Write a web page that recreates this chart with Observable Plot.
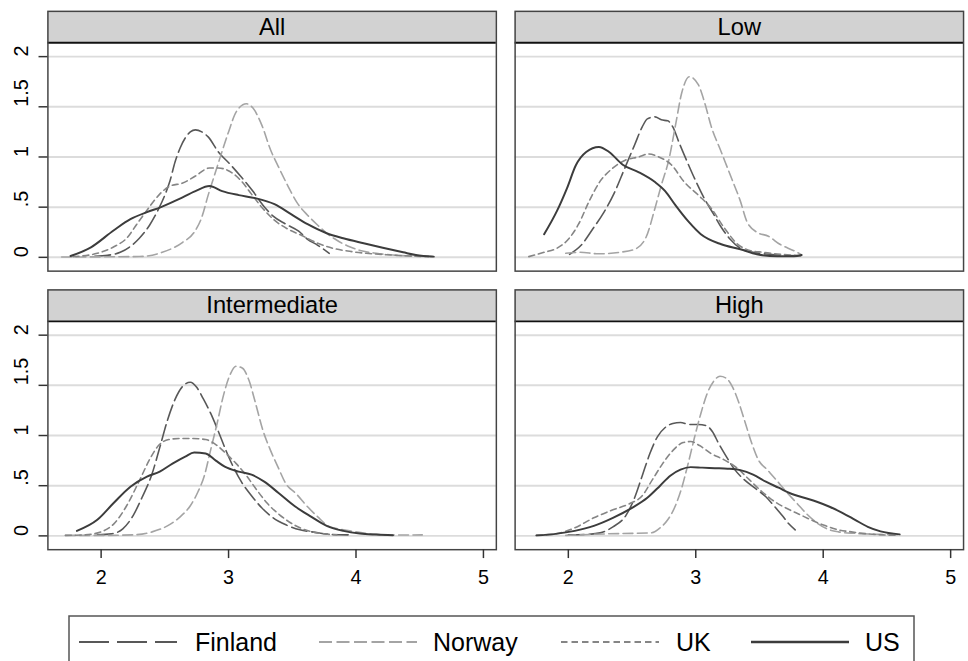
<!DOCTYPE html>
<html>
<head>
<meta charset="utf-8">
<script src="https://cdn.jsdelivr.net/npm/d3@7"></script>
<script src="https://cdn.jsdelivr.net/npm/@observablehq/plot@0.6"></script>
<style>
  html, body { margin: 0; padding: 0; background: #fff; overflow: hidden; }
  #chart { position: relative; width: 968px; height: 661px; overflow: hidden; background: #fff; }
  #panels { position: absolute; left: 0; top: 0; }
</style>
</head>
<body>
<div id="chart"><div id="panels"></div></div>
<script>
// Panels (education groups) and countries
const groups = ["All", "Low", "Intermediate", "High"];
const countries = ["Finland", "Norway", "UK", "US"];

// Axis ticks and labels
const xTicks = [2, 3, 4, 5];
const xTickLabels = ["2", "3", "4", "5"];
const yTicks = [0, 0.5, 1, 1.5, 2];
const yTickLabels = ["0", ".5", "1", "1.5", "2"];

// Kernel density estimates: [score, density]
const finlandAll = [[1.95,0.01],[2.05,0.02],[2.15,0.05],[2.22,0.10],[2.30,0.19],[2.38,0.32],[2.45,0.48],[2.50,0.62],[2.54,0.76],[2.58,0.95],[2.62,1.09],[2.66,1.19],[2.70,1.25],[2.74,1.27],[2.79,1.25],[2.84,1.20],[2.92,1.05],[3.01,0.93],[3.10,0.80],[3.19,0.66],[3.27,0.52],[3.35,0.41],[3.45,0.33],[3.55,0.26],[3.62,0.18],[3.70,0.12],[3.79,0.04]];
const norwayAll = [[1.69,0.003],[2.00,0.005],[2.30,0.008],[2.48,0.05],[2.64,0.15],[2.73,0.25],[2.79,0.40],[2.84,0.62],[2.90,0.86],[2.95,1.06],[3.00,1.25],[3.06,1.45],[3.14,1.53],[3.19,1.49],[3.26,1.32],[3.33,1.07],[3.40,0.88],[3.47,0.70],[3.54,0.54],[3.62,0.42],[3.70,0.32],[3.77,0.24],[3.85,0.17],[3.95,0.105],[4.06,0.06],[4.16,0.04],[4.29,0.023],[4.42,0.013],[4.60,0.007]];
const ukAll = [[1.78,0.007],[1.97,0.04],[2.10,0.105],[2.20,0.19],[2.28,0.33],[2.36,0.47],[2.46,0.63],[2.54,0.71],[2.64,0.74],[2.74,0.81],[2.85,0.89],[2.92,0.89],[3.03,0.84],[3.10,0.76],[3.18,0.63],[3.26,0.50],[3.36,0.37],[3.46,0.285],[3.57,0.22],[3.70,0.14],[3.82,0.09],[3.95,0.06],[4.08,0.04],[4.24,0.026],[4.42,0.013],[4.57,0.007]];
const usAll = [[1.76,0.013],[1.92,0.10],[2.10,0.27],[2.23,0.38],[2.36,0.45],[2.47,0.50],[2.61,0.58],[2.74,0.66],[2.85,0.71],[2.95,0.66],[3.08,0.62],[3.21,0.59],[3.36,0.53],[3.49,0.43],[3.62,0.33],[3.77,0.24],[3.90,0.19],[4.06,0.14],[4.21,0.095],[4.37,0.05],[4.47,0.023],[4.61,0.007]];

const finlandLow = [[2.01,0.03],[2.10,0.12],[2.19,0.28],[2.28,0.45],[2.36,0.64],[2.44,0.88],[2.52,1.12],[2.58,1.30],[2.62,1.38],[2.68,1.40],[2.73,1.37],[2.78,1.36],[2.82,1.30],[2.87,1.14],[2.93,0.96],[3.00,0.76],[3.07,0.58],[3.14,0.43],[3.20,0.30],[3.27,0.18],[3.35,0.09],[3.45,0.05],[3.58,0.03],[3.70,0.02],[3.83,0.015]];
const norwayLow = [[1.98,0.04],[2.09,0.05],[2.24,0.035],[2.40,0.05],[2.52,0.08],[2.61,0.20],[2.68,0.49],[2.73,0.72],[2.79,0.98],[2.84,1.31],[2.89,1.64],[2.95,1.80],[3.02,1.72],[3.07,1.54],[3.12,1.31],[3.20,1.05],[3.28,0.79],[3.35,0.56],[3.40,0.36],[3.48,0.25],[3.57,0.21],[3.66,0.13],[3.77,0.066],[3.83,0.026]];
const ukLow = [[1.69,0.007],[1.81,0.05],[1.91,0.09],[2.00,0.18],[2.08,0.33],[2.16,0.55],[2.24,0.74],[2.34,0.88],[2.45,0.97],[2.55,1.00],[2.63,1.03],[2.71,1.00],[2.81,0.92],[2.91,0.75],[3.02,0.62],[3.12,0.49],[3.22,0.30],[3.33,0.13],[3.43,0.066],[3.53,0.05],[3.64,0.033],[3.74,0.023],[3.83,0.016]];
const usLow = [[1.81,0.23],[1.91,0.46],[1.99,0.69],[2.06,0.92],[2.14,1.05],[2.24,1.10],[2.32,1.05],[2.43,0.92],[2.55,0.85],[2.68,0.75],[2.76,0.66],[2.84,0.52],[2.94,0.36],[3.04,0.23],[3.20,0.13],[3.35,0.08],[3.48,0.03],[3.64,0.01],[3.77,0.01],[3.83,0.023]];

const finlandInter = [[1.97,0.01],[2.08,0.02],[2.17,0.07],[2.25,0.20],[2.32,0.38],[2.40,0.62],[2.46,0.88],[2.52,1.15],[2.58,1.36],[2.64,1.49],[2.70,1.53],[2.75,1.48],[2.80,1.37],[2.86,1.22],[2.92,1.04],[2.98,0.85],[3.04,0.68],[3.10,0.54],[3.18,0.40],[3.26,0.28],[3.35,0.18],[3.45,0.11],[3.56,0.06],[3.68,0.035],[3.80,0.015],[3.95,0.01]];
const norwayInter = [[1.72,0.005],[2.00,0.005],[2.25,0.01],[2.40,0.04],[2.52,0.10],[2.62,0.19],[2.70,0.30],[2.76,0.44],[2.81,0.60],[2.86,0.86],[2.91,1.12],[2.96,1.40],[3.01,1.60],[3.06,1.69],[3.11,1.67],[3.16,1.55],[3.21,1.33],[3.27,1.05],[3.33,0.85],[3.39,0.68],[3.45,0.52],[3.53,0.42],[3.62,0.29],[3.70,0.19],[3.78,0.10],[3.86,0.07],[3.95,0.05],[4.05,0.03],[4.16,0.015],[4.30,0.008],[4.52,0.01]];
const ukInter = [[1.72,0.005],[1.87,0.01],[2.00,0.04],[2.10,0.12],[2.20,0.30],[2.30,0.55],[2.38,0.76],[2.45,0.90],[2.53,0.96],[2.62,0.97],[2.72,0.97],[2.82,0.96],[2.90,0.91],[2.98,0.82],[3.06,0.72],[3.14,0.60],[3.22,0.46],[3.30,0.33],[3.40,0.21],[3.50,0.12],[3.60,0.06],[3.72,0.025],[3.85,0.01]];
const usInter = [[1.81,0.05],[1.97,0.16],[2.10,0.33],[2.23,0.49],[2.36,0.59],[2.46,0.64],[2.56,0.72],[2.66,0.79],[2.73,0.83],[2.82,0.82],[2.90,0.75],[2.97,0.69],[3.08,0.64],[3.18,0.61],[3.28,0.54],[3.39,0.43],[3.52,0.295],[3.64,0.197],[3.77,0.10],[3.90,0.05],[4.03,0.023],[4.16,0.013],[4.29,0.007]];

const finlandHigh = [[2.00,0.01],[2.15,0.015],[2.25,0.03],[2.35,0.09],[2.45,0.20],[2.52,0.38],[2.58,0.60],[2.64,0.82],[2.70,0.99],[2.76,1.08],[2.82,1.12],[2.88,1.13],[2.95,1.11],[3.02,1.11],[3.08,1.10],[3.13,1.04],[3.18,0.92],[3.24,0.79],[3.30,0.67],[3.38,0.56],[3.46,0.48],[3.55,0.39],[3.62,0.29],[3.68,0.20],[3.73,0.12],[3.78,0.06]];
const norwayHigh = [[1.98,0.005],[2.10,0.01],[2.30,0.02],[2.50,0.025],[2.65,0.03],[2.72,0.08],[2.78,0.16],[2.84,0.30],[2.89,0.48],[2.94,0.72],[2.99,0.98],[3.04,1.22],[3.09,1.42],[3.14,1.54],[3.19,1.59],[3.24,1.57],[3.29,1.48],[3.34,1.32],[3.39,1.12],[3.44,0.92],[3.49,0.76],[3.56,0.66],[3.63,0.56],[3.71,0.44],[3.79,0.33],[3.87,0.22],[3.95,0.13],[4.03,0.07],[4.12,0.04],[4.25,0.025],[4.45,0.015],[4.60,0.01]];
const ukHigh = [[1.75,0.005],[1.90,0.02],[2.05,0.08],[2.20,0.18],[2.35,0.26],[2.48,0.32],[2.58,0.40],[2.66,0.56],[2.74,0.72],[2.82,0.85],[2.90,0.93],[2.96,0.94],[3.03,0.90],[3.12,0.82],[3.22,0.76],[3.32,0.68],[3.42,0.56],[3.52,0.44],[3.62,0.34],[3.72,0.27],[3.82,0.21],[3.92,0.15],[4.02,0.10],[4.12,0.06],[4.22,0.04],[4.35,0.02],[4.58,0.005]];
const usHigh = [[1.75,0.005],[1.90,0.02],[2.05,0.05],[2.20,0.10],[2.35,0.18],[2.50,0.28],[2.62,0.38],[2.72,0.50],[2.80,0.60],[2.88,0.66],[2.96,0.685],[3.05,0.68],[3.15,0.675],[3.25,0.67],[3.35,0.655],[3.45,0.61],[3.55,0.54],[3.65,0.48],[3.75,0.42],[3.85,0.38],[3.95,0.34],[4.05,0.29],[4.15,0.23],[4.25,0.16],[4.35,0.09],[4.45,0.045],[4.60,0.015]];

// Line style for each country
const seriesStyle = {
  Finland: {stroke: "#585858", width: 1.6, dash: "16,5", legendDash: "30,8"},
  Norway:  {stroke: "#a4a4a4", width: 1.6, dash: "10,4.5", legendDash: "13,4.5"},
  UK:      {stroke: "#858585", width: 1.6, dash: "6,4", legendDash: "6.5,4"},
  US:      {stroke: "#3c3c3c", width: 2.0, dash: null, legendDash: null}
};

const densities = {
  Finland: {All: finlandAll, Low: finlandLow, Intermediate: finlandInter, High: finlandHigh},
  Norway:  {All: norwayAll,  Low: norwayLow,  Intermediate: norwayInter,  High: norwayHigh},
  UK:      {All: ukAll,      Low: ukLow,      Intermediate: ukInter,      High: ukHigh},
  US:      {All: usAll,      Low: usLow,      Intermediate: usInter,      High: usHigh}
};

// Long table with facet positions (2 x 2 grid)
const panels = groups.map((g, i) => ({group: g, col: i % 2, row: Math.floor(i / 2)}));
const rows = [];
for (const c of countries) {
  panels.forEach(p => {
    for (const [x, y] of densities[c][p.group]) rows.push({country: c, group: p.group, col: p.col, row: p.row, x, y});
  });
}

// Tick labels: x labels under the bottom row, y labels beside the left column
const xLabelRows = [0, 1].flatMap(col => xTicks.map((v, i) => ({col, row: 1, v, label: xTickLabels[i]})));
const yLabelRows = [0, 1].flatMap(row => yTicks.map((v, i) => ({col: 0, row, v, label: yTickLabels[i]})));

// Scale extents: the y domain is extended above the plot area to hold the panel header strip
const xDomain = [1.5824, 5.1013];
const yLo = -0.1375, stripLo = 2.1375, yHi = 2.451;
const stripMid = (stripLo + yHi) / 2;

const lineMarks = countries.map(c => {
  const s = seriesStyle[c];
  return Plot.line(rows.filter(d => d.country === c), {
    x: "x", y: "y", fx: "col", fy: "row",
    stroke: s.stroke, strokeWidth: s.width,
    strokeDasharray: s.dash, curve: "monotone-x"
  });
});

const chart = Plot.plot({
  width: 980,
  height: 612,
  marginLeft: 47,
  marginRight: 4,
  marginTop: 11,
  marginBottom: 55,
  style: {fontFamily: "'Liberation Sans', Arial, sans-serif", fontSize: "20px", color: "#000", background: "transparent"},
  fx: {domain: [0, 1], axis: null, paddingInner: 0.04, paddingOuter: 0},
  fy: {domain: [0, 1], axis: null, paddingInner: 0.0673, paddingOuter: 0},
  x: {domain: xDomain, label: null},
  y: {domain: [yLo, yHi], label: null},
  marks: [
    Plot.ruleY(yTicks, {stroke: "#dcdcdc", strokeWidth: 2}),
    Plot.rect(panels, {fx: "col", fy: "row", y1: () => stripLo, y2: () => yHi, fill: "#d2d2d2"}),
    Plot.text(panels, {fx: "col", fy: "row", y: () => stripMid, text: "group", fontSize: 24, fill: "#000", lineAnchor: "middle"}),
    ...lineMarks,
    Plot.ruleY([stripLo], {stroke: "#111", strokeWidth: 2}),
    Plot.frame({stroke: "#444", strokeWidth: 1.5}),
    Plot.axisX({ticks: xTicks, tickFormat: () => "", label: null, tickSize: 9, stroke: "#333", strokeWidth: 1.5}),
    Plot.axisY({ticks: yTicks, tickFormat: () => "", label: null, tickSize: 9, stroke: "#333", strokeWidth: 1.5}),
    Plot.text(xLabelRows, {x: "v", text: "label", fx: "col", fy: "row", frameAnchor: "bottom", dy: 28.5, lineAnchor: "middle", fontSize: 20, fill: "#000"}),
    Plot.text(yLabelRows, {y: "v", text: "label", fx: "col", fy: "row", frameAnchor: "left", dx: -26.5, rotate: -90, lineAnchor: "middle", fontSize: 20, fill: "#000"})
  ]
});
document.getElementById("panels").appendChild(chart);

// Legend below the panels
const legendItems = [
  {country: "Finland", lineX: 10, labelX: 126},
  {country: "Norway",  lineX: 250, labelX: 364},
  {country: "UK",      lineX: 492, labelX: 607},
  {country: "US",      lineX: 682, labelX: 796}
];
const legend = d3.select("#chart").append("svg")
  .attr("width", 968).attr("height", 61)
  .style("position", "absolute").style("left", "0px").style("top", "600px")
  .style("font-family", "'Liberation Sans', Arial, sans-serif");
const box = legend.append("g").attr("transform", "translate(69,16)");
box.append("rect").attr("x", 0).attr("y", 0).attr("width", 845).attr("height", 60)
  .attr("fill", "#fff").attr("stroke", "#555").attr("stroke-width", 1.5);
for (const item of legendItems) {
  const s = seriesStyle[item.country];
  box.append("line").attr("x1", item.lineX).attr("x2", item.lineX + 98).attr("y1", 26).attr("y2", 26)
    .attr("stroke", s.stroke).attr("stroke-width", s.width + 0.4)
    .attr("stroke-dasharray", s.legendDash);
  box.append("text").attr("x", item.labelX).attr("y", 26).attr("dy", "0.35em")
    .attr("font-size", 25).attr("fill", "#000").text(item.country);
}
</script>
</body>
</html>
